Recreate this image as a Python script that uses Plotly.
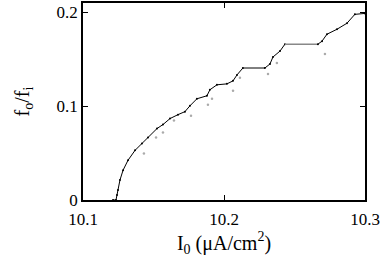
import plotly.graph_objects as go

# main branch (black)
I_main = [10.1213, 10.1234, 10.1241, 10.1248, 10.1262, 10.1284, 10.1319, 10.1369, 10.1418,
          10.1461, 10.1525, 10.1567, 10.1617, 10.1674, 10.1723, 10.1759, 10.1808, 10.1879,
          10.1900, 10.1950, 10.2021, 10.2064, 10.2092, 10.2134, 10.2290, 10.2326, 10.2347,
          10.2397, 10.2432]
f_main = [0.0, 0.0, 0.0053, 0.0106, 0.0212, 0.0317, 0.0423, 0.0529, 0.0603,
          0.0667, 0.0762, 0.0804, 0.0868, 0.0910, 0.0942, 0.1005, 0.1079, 0.1111,
          0.1175, 0.1228, 0.1238, 0.1270, 0.1333, 0.1407, 0.1407, 0.1450, 0.1524,
          0.1587, 0.1661]

# plateau (grey)
I_plat = [10.2432, 10.2666]
f_plat = [0.1661, 0.1661]

# upper branch (black)
I_upper = [10.2666, 10.2695, 10.2730, 10.2801, 10.2872, 10.2928, 10.3000]
f_upper = [0.1661, 0.1693, 0.1767, 0.1820, 0.1884, 0.1979, 0.1989]

# scattered grey points
I_grey = [10.1432, 10.1518, 10.1567, 10.1645, 10.1766, 10.1886, 10.1915, 10.2064,
          10.2113, 10.2312, 10.2375, 10.2716]
f_grey = [0.0497, 0.0667, 0.0720, 0.0847, 0.0899, 0.1016, 0.1079, 0.1164,
          0.1302, 0.1344, 0.1460, 0.1556]

x_ticks = [10.1, 10.2, 10.3]
x_labels = ["10.1", "10.2", "10.3"]
y_ticks = [0, 0.1, 0.2]
y_labels = ["0", "0.1", "0.2"]

fig = go.Figure()
fig.add_trace(go.Scatter(x=I_main, y=f_main, mode="lines+markers",
                         line=dict(color="black", width=1),
                         marker=dict(color="black", size=2)))
fig.add_trace(go.Scatter(x=I_plat, y=f_plat, mode="lines",
                         line=dict(color="#888888", width=1.4)))
fig.add_trace(go.Scatter(x=I_upper, y=f_upper, mode="lines+markers",
                         line=dict(color="black", width=1),
                         marker=dict(color="black", size=2)))
fig.add_trace(go.Scatter(x=I_grey, y=f_grey, mode="markers",
                         marker=dict(color="#aaaaaa", size=2.5)))

font = dict(family="Liberation Serif, Times New Roman, serif", size=17, color="black")
fig.update_layout(
    width=382, height=258,
    margin=dict(l=83, r=17, t=1, b=58),
    paper_bgcolor="white", plot_bgcolor="white",
    showlegend=False,
    font=font,
    xaxis=dict(range=[10.1, 10.3], tickvals=x_ticks, ticktext=x_labels,
               ticks="inside", ticklen=5, tickwidth=1, tickcolor="black",
               ticklabelstandoff=3,
               showline=True, linecolor="black", linewidth=1.5, mirror="ticks",
               showgrid=False, zeroline=False,
               title=dict(text="I<sub>0</sub> (μA/cm<sup>2</sup>)", standoff=4)),
    yaxis=dict(range=[0, 0.21], tickvals=y_ticks, ticktext=y_labels,
               ticks="inside", ticklen=5, tickwidth=1, tickcolor="black",
               showline=True, linecolor="black", linewidth=1.5, mirror="ticks",
               showgrid=False, zeroline=False,
               title=dict(text="f<sub>o</sub>/f<sub>i</sub>", standoff=22)),
)
fig.write_html("out.html", config={"displayModeBar": False},
               post_script="document.body.style.margin='0';document.body.style.overflow='hidden';")
